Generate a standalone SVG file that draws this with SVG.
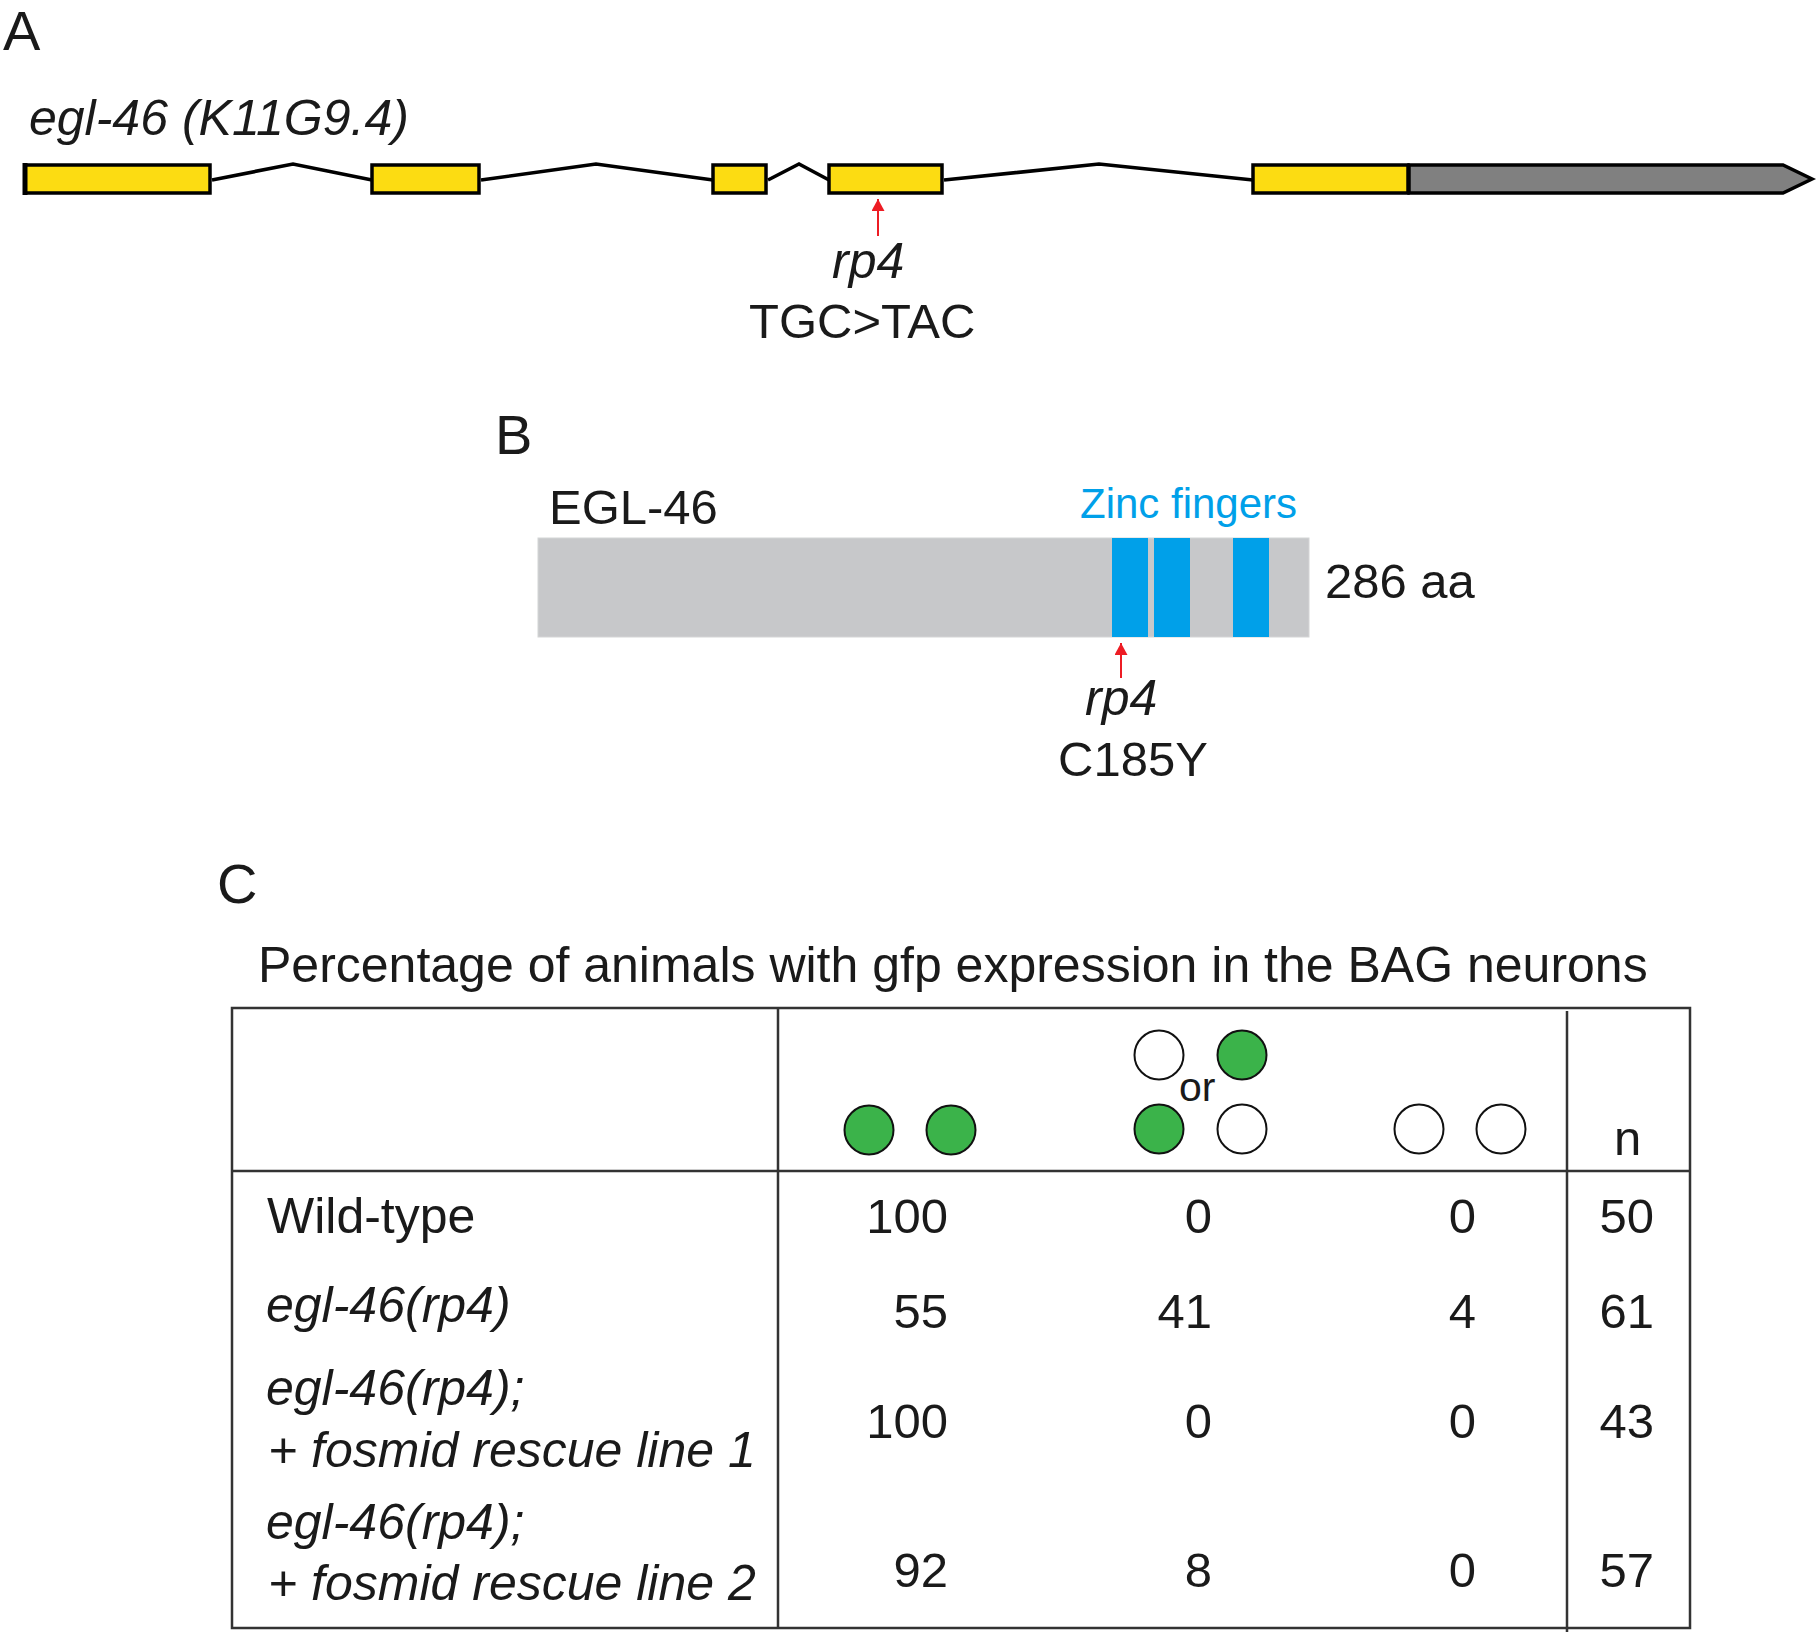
<svg xmlns="http://www.w3.org/2000/svg" width="1817" height="1633" viewBox="0 0 1817 1633">
<style>
text{font-family:"Liberation Sans",Arial,Helvetica,sans-serif;fill:#1a1a1a}
.lbl{font-size:56px}
.t{font-size:49px}
.it{font-size:50px;font-style:italic}
.num{font-size:49px;text-anchor:end}
.exon{fill:#fcdc12;stroke:#000;stroke-width:3.5}
.intron{fill:none;stroke:#000;stroke-width:3.6}
.red{stroke:#ed1c24;stroke-width:2;fill:none}
.zf{fill:#00a0e9}
.grid{stroke:#333;stroke-width:2.5;fill:none}
.g{fill:#3bb34a;stroke:#111;stroke-width:2}
.w{fill:#fff;stroke:#111;stroke-width:2}
</style>
<defs>
<marker id="ah" viewBox="0 0 12 13" refX="12" refY="6.5" markerWidth="12" markerHeight="13" markerUnits="userSpaceOnUse" orient="auto">
<path d="M0,0 L12,6.5 L0,13 z" fill="#ed1c24"/>
</marker>
</defs>
<rect width="1817" height="1633" fill="#fff"/>

<g id="panelA">
<text class="lbl" x="3" y="50">A</text>
<text class="it" x="29" y="135">egl-46 (K11G9.4)</text>
<g id="connectors-A">
<polyline class="intron" points="212,180 293,164 372,180"/>
<polyline class="intron" points="481,180 596,164 713,180"/>
<polyline class="intron" points="768,180 799,164 829,180"/>
<polyline class="intron" points="944,180 1099,164 1253,180"/>
<line class="red" x1="878" y1="236" x2="878" y2="199" marker-end="url(#ah)"/>
</g>
<g id="exon1"><rect class="exon" x="25" y="165" width="185" height="28"/><line x1="25" y1="163" x2="25" y2="195" stroke="#000" stroke-width="5"/></g>
<g id="exon2"><rect class="exon" x="372" y="165" width="107" height="28"/></g>
<g id="exon3"><rect class="exon" x="713" y="165" width="53" height="28"/></g>
<g id="exon4"><rect class="exon" x="829" y="165" width="113" height="28"/></g>
<g id="utr3"><polygon points="1409,165 1783,165 1812,179 1783,193 1409,193" fill="#808080" stroke="#000" stroke-width="3.5"/></g>
<g id="exon5"><rect class="exon" x="1253" y="165" width="155" height="28"/></g>
<text class="it" x="832" y="278">rp4</text>
<text class="t" x="749" y="338">TGC&gt;TAC</text>
</g>

<g id="panelB">
<text class="lbl" x="495" y="454">B</text>
<text class="t" x="549" y="524">EGL-46</text>
<text x="1080" y="518" style="font-size:42px;fill:#00a0e9">Zinc fingers</text>
<g id="protein">
<rect x="538" y="538" width="771" height="99" fill="#c7c8ca" stroke="#d4d5d6" stroke-width="1"/>
<rect class="zf" x="1112" y="538" width="36" height="99"/>
<rect class="zf" x="1154" y="538" width="36" height="99"/>
<rect class="zf" x="1233" y="538" width="36" height="99"/>
</g>
<text class="t" x="1325" y="598">286 aa</text>
<g id="connectors-B">
<line class="red" x1="1121" y1="678" x2="1121" y2="643" marker-end="url(#ah)"/>
</g>
<text class="it" x="1085" y="715">rp4</text>
<text class="t" x="1058" y="776">C185Y</text>
</g>

<g id="panelC">
<text class="lbl" x="217" y="903">C</text>
<text x="258" y="982" style="font-size:50px">Percentage of animals with gfp expression in the BAG neurons</text>
<g id="table-grid">
<rect class="grid" x="232" y="1008" width="1458" height="620"/>
<line class="grid" x1="232" y1="1171" x2="1690" y2="1171"/>
<line class="grid" x1="778" y1="1008" x2="778" y2="1628"/>
<line class="grid" x1="1567" y1="1011" x2="1567" y2="1632"/>
</g>
<g id="header">
<circle class="g" cx="869" cy="1130" r="24.5"/>
<circle class="g" cx="951" cy="1130" r="24.5"/>
<circle class="w" cx="1159" cy="1055" r="24.5"/>
<circle class="g" cx="1242" cy="1055" r="24.5"/>
<circle class="g" cx="1159" cy="1129" r="24.5"/>
<circle class="w" cx="1242" cy="1129" r="24.5"/>
<text x="1179" y="1101" style="font-size:41px">or</text>
<circle class="w" cx="1419" cy="1129" r="24.5"/>
<circle class="w" cx="1501" cy="1129" r="24.5"/>
<text class="t" x="1614" y="1155">n</text>
</g>
<g id="row1">
<text class="t" x="267" y="1233" style="font-size:50px">Wild-type</text>
<text class="num" x="948" y="1233">100</text>
<text class="num" x="1212" y="1233">0</text>
<text class="num" x="1476" y="1233">0</text>
<text class="num" x="1654" y="1233">50</text>
</g>
<g id="row2">
<text class="it" x="266" y="1322">egl-46(rp4)</text>
<text class="num" x="948" y="1328">55</text>
<text class="num" x="1212" y="1328">41</text>
<text class="num" x="1476" y="1328">4</text>
<text class="num" x="1654" y="1328">61</text>
</g>
<g id="row3">
<text class="it" x="266" y="1405">egl-46(rp4);</text>
<text class="it" x="268" y="1467">+ fosmid rescue line 1</text>
<text class="num" x="948" y="1438">100</text>
<text class="num" x="1212" y="1438">0</text>
<text class="num" x="1476" y="1438">0</text>
<text class="num" x="1654" y="1438">43</text>
</g>
<g id="row4">
<text class="it" x="266" y="1539">egl-46(rp4);</text>
<text class="it" x="268" y="1600">+ fosmid rescue line 2</text>
<text class="num" x="948" y="1587">92</text>
<text class="num" x="1212" y="1587">8</text>
<text class="num" x="1476" y="1587">0</text>
<text class="num" x="1654" y="1587">57</text>
</g>
</g>
</svg>
